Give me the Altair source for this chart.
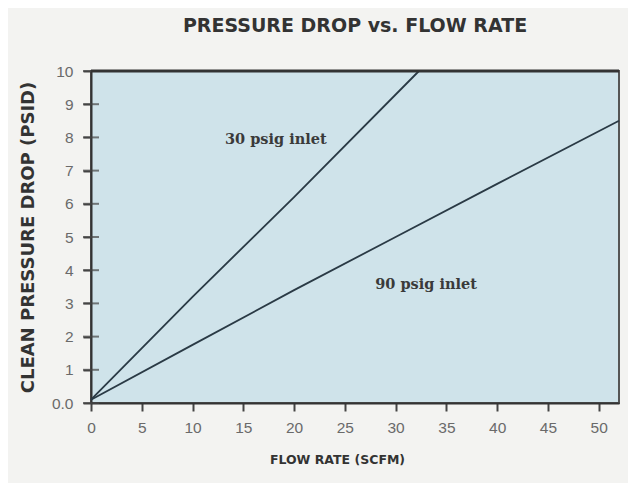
import altair as alt
import pandas as pd

# Data
flow_30 = [0, 10, 20, 32.3]
drop_30 = [0.1, 3.2, 6.2, 10.0]
flow_90 = [0, 10, 20, 30, 40, 52]
drop_90 = [0.1, 1.75, 3.4, 5.0, 6.6, 8.5]
label_text = ["30 psig inlet", "90 psig inlet"]
label_x = [18.2, 33.0]
label_y = [7.92, 3.55]
y_ticks = list(range(0, 11))
x_ticks = list(range(0, 55, 5))

lines = pd.concat([
    pd.DataFrame({"flow": flow_30, "drop": drop_30, "series": "30"}),
    pd.DataFrame({"flow": flow_90, "drop": drop_90, "series": "90"}),
])
labels = pd.DataFrame({"text": label_text, "flow": label_x, "drop": label_y})
yt = pd.DataFrame({"drop": y_ticks, "flow": [0] * len(y_ticks)})
top = pd.DataFrame({"drop": [10], "flow": [0]})

xscale = alt.Scale(domain=[0, 52], nice=False, zero=False)
yscale = alt.Scale(domain=[0, 10], nice=False)

xenc = alt.X("flow:Q", scale=xscale, title="FLOW RATE (SCFM)",
             axis=alt.Axis(values=x_ticks))
yenc = alt.Y("drop:Q", scale=yscale, title="CLEAN PRESSURE DROP (PSID)",
             axis=alt.Axis(values=y_ticks,
                           labelExpr="datum.value == 0 ? '0.0' : datum.label"))

line_layer = alt.Chart(lines).mark_line(color="#2a3a45", strokeWidth=1.8).encode(
    x=xenc, y=yenc, detail="series:N")

text_layer = alt.Chart(labels).mark_text(
    font="DejaVu Serif", fontSize=14.5, fontWeight="bold", color="#3a3a3a"
).encode(x=xenc, y=yenc, text="text:N")

ytick_layer = alt.Chart(yt).mark_tick(
    orient="horizontal", size=16, thickness=2, color="#444", clip=False
).encode(x=xenc, y=yenc)

top_layer = alt.Chart(top).mark_rule(
    color="#333", strokeWidth=3, clip=False
).encode(y=yenc)

chart = alt.layer(line_layer, text_layer, ytick_layer, top_layer).properties(
    width=528, height=332,
    autosize=alt.AutoSizeParams(type="none"),
    padding={"left": 83, "top": 63, "right": 9, "bottom": 80},
    background="#f3f3f1",
    title=alt.TitleParams("PRESSURE DROP vs. FLOW RATE", font="DejaVu Sans", fontSize=19,
                          fontWeight="bold", color="#333", offset=28, anchor="middle"),
).configure_view(
    fill="#cfe3ea", stroke="#555", strokeWidth=2
).configure_axis(
    grid=False, tickSize=8, tickWidth=2, tickColor="#444",
    domainColor="#333", domainWidth=2,
    labelOverlap=False, labelFlush=False,
    labelFont="Liberation Sans", labelFontSize=15.5, labelColor="#6a6a6a",
    titleFont="DejaVu Sans", titleFontWeight="bold", titleColor="#333",
).configure_axisX(
    labelPadding=9, titleFontSize=12.5, titlePadding=18, titleX=246,
).configure_axisY(
    labelPadding=10, titleFontSize=18, titlePadding=14,
)

chart.save("out.html", embed_options={"renderer": "svg", "actions": False})
